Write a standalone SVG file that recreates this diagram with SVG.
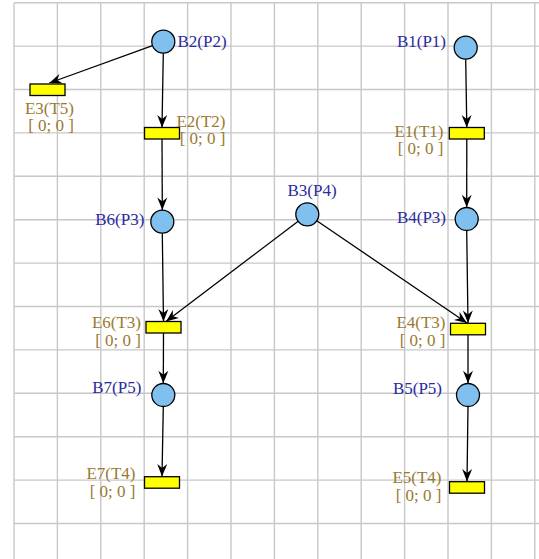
<svg xmlns="http://www.w3.org/2000/svg" width="539" height="559" viewBox="0 0 539 559">
<style>
.grid line{stroke:#c8c8c8;stroke-width:1.4}
.place{fill:#7fc0ee;stroke:#000;stroke-width:1.3}
.trans{fill:#ffff00;stroke:#000;stroke-width:1.3}
.pl{font-family:"Liberation Serif",serif;font-size:17px;fill:#2a2a9e}
.tl{font-family:"Liberation Serif",serif;font-size:17px;fill:#9a7a30;text-anchor:end}
.arc{stroke:#000;stroke-width:1.3;fill:none;marker-end:url(#ah)}
</style>
<defs>
<marker id="ah" markerUnits="userSpaceOnUse" markerWidth="16" markerHeight="12" viewBox="-13 -6 14 12" refX="0" refY="0" orient="auto">
<path d="M0,0 L-12.5,-5 L-8.5,0 L-12.5,5 Z" fill="#000"/>
</marker>
</defs>
<rect width="539" height="559" fill="#fff"/>
<g class="grid">
<line x1="14" y1="2.7" x2="14" y2="559"/>
<line x1="57.4" y1="2.7" x2="57.4" y2="559"/>
<line x1="100.8" y1="2.7" x2="100.8" y2="559"/>
<line x1="144.2" y1="2.7" x2="144.2" y2="559"/>
<line x1="187.6" y1="2.7" x2="187.6" y2="559"/>
<line x1="231" y1="2.7" x2="231" y2="559"/>
<line x1="274.4" y1="2.7" x2="274.4" y2="559"/>
<line x1="317.8" y1="2.7" x2="317.8" y2="559"/>
<line x1="361.2" y1="2.7" x2="361.2" y2="559"/>
<line x1="404.6" y1="2.7" x2="404.6" y2="559"/>
<line x1="448" y1="2.7" x2="448" y2="559"/>
<line x1="491.4" y1="2.7" x2="491.4" y2="559"/>
<line x1="534.8" y1="2.7" x2="534.8" y2="559"/>
<line x1="14" y1="2.7" x2="539" y2="2.7"/>
<line x1="14" y1="46.1" x2="539" y2="46.1"/>
<line x1="14" y1="89.5" x2="539" y2="89.5"/>
<line x1="14" y1="132.9" x2="539" y2="132.9"/>
<line x1="14" y1="176.3" x2="539" y2="176.3"/>
<line x1="14" y1="219.7" x2="539" y2="219.7"/>
<line x1="14" y1="263.1" x2="539" y2="263.1"/>
<line x1="14" y1="306.5" x2="539" y2="306.5"/>
<line x1="14" y1="349.9" x2="539" y2="349.9"/>
<line x1="14" y1="393.3" x2="539" y2="393.3"/>
<line x1="14" y1="436.7" x2="539" y2="436.7"/>
<line x1="14" y1="480.1" x2="539" y2="480.1"/>
<line x1="14" y1="523.5" x2="539" y2="523.5"/>
</g>
<g id="connectors">
<line class="arc" x1="152.5" y1="45.6" x2="49.3" y2="83"/>
<line class="arc" x1="163.3" y1="53.2" x2="162" y2="127.5"/>
<line class="arc" x1="465.7" y1="59.2" x2="466.8" y2="127.5"/>
<line class="arc" x1="162" y1="138.5" x2="162.3" y2="210"/>
<line class="arc" x1="466.8" y1="138.5" x2="466.7" y2="207.3"/>
<line class="arc" x1="162.3" y1="233.2" x2="163.5" y2="321.5"/>
<line class="arc" x1="298.2" y1="221.2" x2="166" y2="321.5"/>
<line class="arc" x1="316.8" y1="220.8" x2="467" y2="323"/>
<line class="arc" x1="466.7" y1="230.5" x2="468" y2="323"/>
<line class="arc" x1="163.5" y1="333" x2="163.3" y2="383.3"/>
<line class="arc" x1="468" y1="335" x2="468" y2="383.3"/>
<line class="arc" x1="163.3" y1="406.5" x2="162" y2="476.5"/>
<line class="arc" x1="468" y1="406.5" x2="467" y2="481.5"/>
</g>
<g id="B2"><circle class="place" cx="163.3" cy="41.7" r="11.5"/><text class="pl" x="177.5" y="46.5">B2(P2)</text></g>
<g id="B1"><circle class="place" cx="465.7" cy="47.7" r="11.5"/><text class="pl" x="446" y="46.7" text-anchor="end">B1(P1)</text></g>
<g id="B6"><circle class="place" cx="162.3" cy="221.7" r="11.5"/><text class="pl" x="144.3" y="225.3" text-anchor="end">B6(P3)</text></g>
<g id="B3"><circle class="place" cx="307.3" cy="214.3" r="11.5"/><text class="pl" x="287.5" y="196">B3(P4)</text></g>
<g id="B4"><circle class="place" cx="466.7" cy="219" r="11.5"/><text class="pl" x="446" y="223.3" text-anchor="end">B4(P3)</text></g>
<g id="B7"><circle class="place" cx="163.3" cy="395" r="11.5"/><text class="pl" x="141.3" y="393.3" text-anchor="end">B7(P5)</text></g>
<g id="B5"><circle class="place" cx="468" cy="395" r="11.5"/><text class="pl" x="442" y="394" text-anchor="end">B5(P5)</text></g>
<g id="E3"><rect class="trans" x="30" y="84" width="35" height="11.5"/><text class="tl" x="74" y="114.3">E3(T5)</text><text class="tl" x="74" y="131.3">[ 0; 0 ]</text></g>
<g id="E2"><rect class="trans" x="144.5" y="127.5" width="35" height="11.5"/><text class="tl" x="225.5" y="126.7">E2(T2)</text><text class="tl" x="225.5" y="143.7">[ 0; 0 ]</text></g>
<g id="E1"><rect class="trans" x="449.3" y="127.5" width="35" height="11.5"/><text class="tl" x="443.5" y="136.7">E1(T1)</text><text class="tl" x="443.5" y="154">[ 0; 0 ]</text></g>
<g id="E6"><rect class="trans" x="146" y="321.5" width="35" height="11.5"/><text class="tl" x="141" y="328.3">E6(T3)</text><text class="tl" x="141" y="345.7">[ 0; 0 ]</text></g>
<g id="E4"><rect class="trans" x="450.5" y="323.3" width="35" height="11.5"/><text class="tl" x="445.5" y="327.7">E4(T3)</text><text class="tl" x="445.5" y="345.7">[ 0; 0 ]</text></g>
<g id="E7"><rect class="trans" x="144.5" y="476.7" width="35" height="11.5"/><text class="tl" x="135.5" y="479">E7(T4)</text><text class="tl" x="135.5" y="496.7">[ 0; 0 ]</text></g>
<g id="E5"><rect class="trans" x="449.5" y="481.7" width="35" height="11.5"/><text class="tl" x="441.5" y="483.3">E5(T4)</text><text class="tl" x="441.5" y="501">[ 0; 0 ]</text></g>
</svg>
